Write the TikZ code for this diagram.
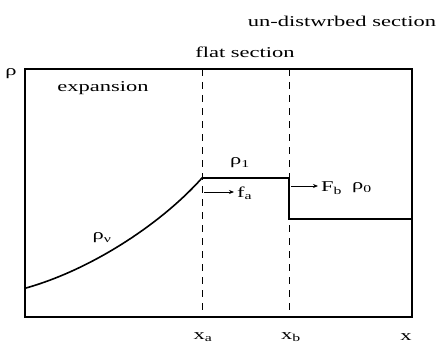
\documentclass[tikz,border=0pt]{standalone}
\usepackage{fontspec}
\setmainfont{Liberation Serif}[FakeStretch=1.5]
\usetikzlibrary{arrows.meta}
\begin{document}
\begin{tikzpicture}[x=1pt,y=-1pt,
  lbl/.style={inner sep=0pt,font=\fontsize{15}{18}\selectfont},
  frame/.style={line width=1.6pt},
  curve/.style={line width=1.6pt},
  sep/.style={line width=0.9pt,dash pattern=on 7pt off 6pt},
  flux/.style={line width=0.9pt,-{Stealth[length=5pt,width=4pt]}}]
\useasboundingbox (0,0) rectangle (442,345);
% frame
\coordinate (bl) at (25,317);
\coordinate (tr) at (412,69);
\draw[frame] (bl) rectangle (tr);
% separators
\coordinate (at) at (202,69);
\coordinate (ab) at (202,317);
\coordinate (bt) at (289,69);
\coordinate (bb) at (289,317);
\draw[sep] (at) -- (ab);
\draw[sep] (bt) -- (bb);
% profile
\coordinate (c0) at (26,288);
\coordinate (c1) at (202,178);
\coordinate (c2) at (289,178);
\coordinate (c3) at (289,219);
\coordinate (c4) at (411,219);
\draw[curve] (c0) .. controls (90,270) and (160,225) .. (c1) -- (c2) -- (c3) -- (c4);
% fluxes
\coordinate (fa0) at (204,192);
\node[lbl,anchor=west] (fa) at (237,193) {f\textsubscript{a}};
\draw[flux] (fa0) -- ([xshift=-3pt]fa0 -| fa.west);
\coordinate (fb0) at (291,186);
\node[lbl,anchor=west] (fb) at (321,188) {F\textsubscript{b}};
\draw[flux] (fb0) -- ([xshift=-3pt]fb0 -| fb.west);
% labels
\node[lbl] (rho) at (11,74) {ρ};
\node[lbl] (exp) at (103,88) {expansion};
\node[lbl] (flat) at (245,52) {flat section};
\node[lbl] (und) at (342,21) {un-distwrbed section};
\node[lbl] (r1) at (240,163) {ρ\textsubscript{1}};
\node[lbl] (r0) at (362,188) {ρ\textsubscript{0}};
\node[lbl] (rv) at (102,238) {ρ\textsubscript{ν}};
\node[lbl] (xa) at (203,337) {x\textsubscript{a}};
\node[lbl] (xb) at (291,337) {x\textsubscript{b}};
\node[lbl] (x) at (406,337) {x};
\end{tikzpicture}
\end{document}
